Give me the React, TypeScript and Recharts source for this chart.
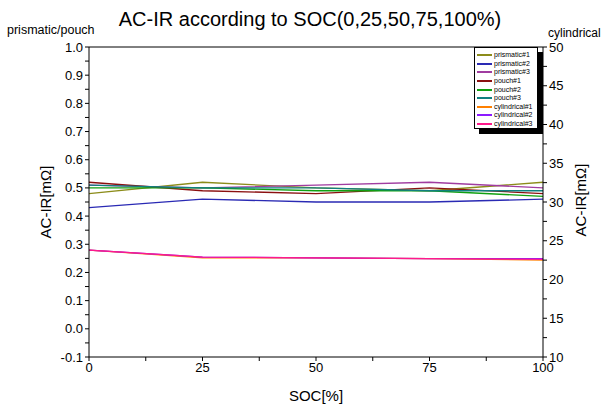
import { Line, LineChart, ReferenceLine, XAxis, YAxis } from "recharts";

const SOC = [0, 25, 50, 75, 100];

// prismatic / pouch cells, left axis (mΩ)
const prismatic1 = [0.48, 0.52, 0.5, 0.49, 0.52];
const prismatic2 = [0.43, 0.46, 0.45, 0.45, 0.46];
const prismatic3 = [0.51, 0.5, 0.51, 0.52, 0.5];
const pouch1 = [0.52, 0.49, 0.48, 0.5, 0.48];
const pouch2 = [0.5, 0.5, 0.49, 0.49, 0.47];
const pouch3 = [0.51, 0.5, 0.5, 0.49, 0.49];

// cylindrical cells, right axis (mΩ)
const cylindrical1 = [23.8, 22.8, 22.8, 22.7, 22.5];
const cylindrical2 = [23.8, 22.9, 22.8, 22.7, 22.7];
const cylindrical3 = [23.8, 22.9, 22.8, 22.7, 22.6];

const LEFT_TICKS = [
  -0.1, -0.05, 0, 0.05, 0.1, 0.15, 0.2, 0.25, 0.3, 0.35, 0.4, 0.45, 0.5, 0.55,
  0.6, 0.65, 0.7, 0.75, 0.8, 0.85, 0.9, 0.95, 1.0,
];
const RIGHT_TICKS = [
  10, 12.5, 15, 17.5, 20, 22.5, 25, 27.5, 30, 32.5, 35, 37.5, 40, 42.5, 45,
  47.5, 50,
];
const X_TICKS = [0, 12.5, 25, 37.5, 50, 62.5, 75, 87.5, 100];

const SERIES = [
  { key: "prismatic#1", values: prismatic1, color: "#8c8c1a", axis: "left" },
  { key: "prismatic#2", values: prismatic2, color: "#2a2ab4", axis: "left" },
  { key: "prismatic#3", values: prismatic3, color: "#a03ca0", axis: "left" },
  { key: "pouch#1", values: pouch1, color: "#8b1010", axis: "left" },
  { key: "pouch#2", values: pouch2, color: "#10a010", axis: "left" },
  { key: "pouch#3", values: pouch3, color: "#108080", axis: "left" },
  { key: "cylindrical#1", values: cylindrical1, color: "#ff8000", axis: "right" },
  { key: "cylindrical#2", values: cylindrical2, color: "#8c1aff", axis: "right" },
  { key: "cylindrical#3", values: cylindrical3, color: "#ff1a8c", axis: "right" },
];

const FONT = "'Liberation Sans', Arial, sans-serif";

const rows = SOC.map((s, i) => {
  const row: Record<string, number> = { soc: s };
  SERIES.forEach((sr) => {
    row[sr.key] = sr.values[i];
  });
  return row;
});

const isMajor = (v: number, step: number) =>
  Math.abs(v / step - Math.round(v / step)) < 1e-6;

function LegendBox() {
  return (
    <div style={{ position: "absolute", left: 474, top: 47, width: 69, height: 87 }}>
      <div
        style={{
          position: "absolute",
          left: 5,
          top: 5,
          width: 64,
          height: 82,
          background: "#000",
        }}
      />
      <div
        style={{
          position: "absolute",
          left: 0,
          top: 0,
          width: 64,
          height: 82,
          background: "#fff",
          border: "1px solid #000",
          padding: "3px 0 0 2px",
          boxSizing: "border-box",
          color: "#000",
        }}
      >
        {SERIES.map((s) => (
          <div
            key={s.key}
            style={{
              display: "flex",
              alignItems: "center",
              height: 8.6,
              fontSize: 7,
              fontFamily: FONT,
              lineHeight: "8px",
              color: "#000",
            }}
          >
            <span
              style={{
                display: "inline-block",
                width: 15,
                height: 2,
                background: s.color,
                marginRight: 2,
              }}
            />
            <span>{s.key}</span>
          </div>
        ))}
      </div>
    </div>
  );
}

export default function App() {
  return (
    <div
      style={{
        position: "absolute",
        left: 0,
        top: 0,
        width: 603,
        height: 411,
        background: "#fff",
        fontFamily: FONT,
      }}
    >
      <div
        style={{
          position: "absolute",
          top: 8,
          left: 0,
          width: 620,
          textAlign: "center",
          fontSize: 20,
        }}
      >
        AC-IR according to SOC(0,25,50,75,100%)
      </div>
      <div style={{ position: "absolute", top: 23, left: 7, fontSize: 12.5 }}>
        prismatic/pouch
      </div>
      <div
        style={{
          position: "absolute",
          top: 26,
          left: 548,
          fontSize: 12,
          whiteSpace: "nowrap",
        }}
      >
        cylindrical
      </div>
      <div
        style={{
          position: "absolute",
          left: 45,
          top: 202,
          fontSize: 15,
          whiteSpace: "nowrap",
          transform: "translate(-50%, -50%) rotate(-90deg)",
        }}
      >
        AC-IR[mΩ]
      </div>
      <div
        style={{
          position: "absolute",
          left: 580,
          top: 200,
          fontSize: 15,
          whiteSpace: "nowrap",
          transform: "translate(-50%, -50%) rotate(-90deg)",
        }}
      >
        AC-IR[mΩ]
      </div>
      <div
        style={{
          position: "absolute",
          left: 0,
          top: 387,
          width: 632,
          textAlign: "center",
          fontSize: 15,
        }}
      >
        SOC[%]
      </div>

      <LineChart
        width={603}
        height={411}
        data={rows}
        margin={{ top: 47, right: 10, left: 39, bottom: 14 }}
        style={{ position: "absolute", left: 0, top: 0 }}
      >
        <XAxis
          dataKey="soc"
          type="number"
          domain={[0, 100]}
          ticks={X_TICKS}
          height={40}
          stroke="#000"
          tickSize={4}
          tickLine={{ stroke: "#000" }}
          tick={(p: any) =>
            isMajor(p.payload.value, 25) ? (
              <text
                x={p.x}
                y={p.y}
                dy="0.71em"
                textAnchor="middle"
                fontSize={13}
                fill="#000"
                fontFamily={FONT}
              >
                {p.payload.value}
              </text>
            ) : (
              <g />
            )
          }
        />
        <YAxis
          yAxisId="left"
          domain={[-0.1, 1.0]}
          ticks={LEFT_TICKS}
          width={50}
          stroke="#000"
          tickSize={4}
          interval={0}
          allowDataOverflow
          tick={(p: any) =>
            isMajor(p.payload.value, 0.1) ? (
              <text
                x={p.x}
                y={p.y}
                dy={4.5}
                textAnchor="end"
                fontSize={13}
                fill="#000"
                fontFamily={FONT}
              >
                {p.payload.value.toFixed(1)}
              </text>
            ) : (
              <g />
            )
          }
        />
        <YAxis
          yAxisId="right"
          orientation="right"
          domain={[10, 50]}
          ticks={RIGHT_TICKS}
          width={50}
          stroke="#000"
          tickSize={4}
          interval={0}
          allowDataOverflow
          tick={(p: any) =>
            isMajor(p.payload.value, 5) ? (
              <text
                x={p.x}
                y={p.y}
                dy={4.5}
                textAnchor="start"
                fontSize={13}
                fill="#000"
                fontFamily={FONT}
              >
                {p.payload.value}
              </text>
            ) : (
              <g />
            )
          }
        />
        <ReferenceLine yAxisId="left" y={1.0} stroke="#000" />
        {SERIES.map((s) => (
          <Line
            key={s.key}
            yAxisId={s.axis}
            type="linear"
            dataKey={s.key}
            name={s.key}
            stroke={s.color}
            strokeWidth={1.3}
            dot={false}
            isAnimationActive={false}
          />
        ))}
      </LineChart>
      <LegendBox />
    </div>
  );
}
